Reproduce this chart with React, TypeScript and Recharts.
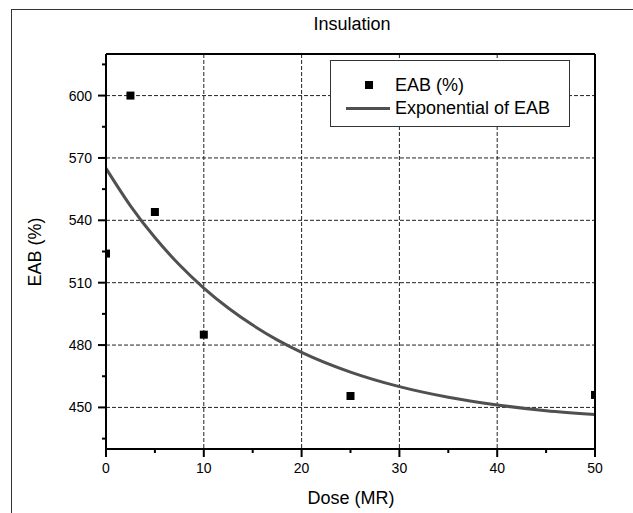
import { ComposedChart, Line, Scatter, XAxis, YAxis, CartesianGrid } from 'recharts'

// measured points
const DOSE = [0, 2.5, 5, 10, 25, 50]
const EAB = [524, 600, 544, 485, 455.5, 456]

// exponential fit
const FIT_DOSE = [0, 2.5, 5, 7.5, 10, 12.5, 15, 17.5, 20, 25, 30, 35, 40, 45, 50]
const FIT_EAB = [565, 547, 531.7, 518.6, 507.4, 497.8, 489.6, 482.5, 476.5, 467, 460, 454.9, 451.2, 448.4, 446.6]

const X_MAJOR = [0, 10, 20, 30, 40, 50]
const X_MINOR = [5, 15, 25, 35, 45]
const Y_MAJOR = [450, 480, 510, 540, 570, 600]
const Y_MINOR = [435, 465, 495, 525, 555, 585, 615]

const FONT = '"Liberation Sans", Arial, sans-serif'

const points = DOSE.map((x, i) => ({ x, y: EAB[i] }))
const fit = FIT_DOSE.map((x, i) => ({ x, y: FIT_EAB[i] }))
const xTicks = [...X_MAJOR, ...X_MINOR].sort((a, b) => a - b)
const yTicks = [...Y_MAJOR, ...Y_MINOR].sort((a, b) => a - b)

const tickText = { fontSize: 14, fill: '#000', fontFamily: FONT }
const axisLine = { stroke: '#000', strokeWidth: 2 }

function BottomTick({ x, y, payload }: any) {
  const major = X_MAJOR.includes(payload.value)
  return (
    <g>
      <line x1={x} y1={y} x2={x} y2={y + (major ? 8 : 4)} stroke="#000" strokeWidth={2} />
      {major && <text x={x} y={y + 24} textAnchor="middle" {...tickText}>{payload.value}</text>}
    </g>
  )
}

function TopTick({ x, y, payload }: any) {
  const major = X_MAJOR.includes(payload.value)
  return <line x1={x} y1={y} x2={x} y2={y - (major ? 8 : 4)} stroke="#000" strokeWidth={2} />
}

function LeftTick({ x, y, payload }: any) {
  const major = Y_MAJOR.includes(payload.value)
  return (
    <g>
      <line x1={x} y1={y} x2={x - (major ? 8 : 4)} y2={y} stroke="#000" strokeWidth={2} />
      {major && <text x={x - 14} y={y + 5} textAnchor="end" {...tickText}>{payload.value}</text>}
    </g>
  )
}

function RightTick({ x, y, payload }: any) {
  const major = Y_MAJOR.includes(payload.value)
  return <line x1={x} y1={y} x2={x + (major ? 8 : 4)} y2={y} stroke="#000" strokeWidth={2} />
}

const Square = ({ cx, cy }: any) => <rect x={cx - 4} y={cy - 4} width={8} height={8} fill="#000" />

const label = { position: 'absolute' as const, fontFamily: FONT, fontSize: 18, lineHeight: '18px', color: '#000', whiteSpace: 'nowrap' as const }

export default function App() {
  return (
    <div style={{ position: 'absolute', left: 0, top: 0, width: 633, height: 513, background: '#fff' }}>
      <div style={{ position: 'absolute', left: 11, top: 9, right: 0, bottom: 0, borderLeft: '1px solid #333', borderTop: '1px solid #333' }} />
      <ComposedChart width={633} height={513} margin={{ top: 0, right: 0, bottom: 0, left: 0 }} style={{ position: 'absolute', left: 0, top: 0 }}>
        <CartesianGrid horizontalValues={Y_MAJOR} verticalValues={[10, 20, 30, 40]} stroke="#222" strokeDasharray="4 2" />
        <XAxis dataKey="x" type="number" domain={[0, 50]} ticks={xTicks} interval={0} allowDataOverflow
          height={64} tickSize={0} tickMargin={0} tickLine={false} axisLine={axisLine} tick={<BottomTick />} />
        <XAxis xAxisId="top" orientation="top" dataKey="x" type="number" domain={[0, 50]} ticks={xTicks} interval={0}
          height={54} tickSize={0} tickMargin={0} tickLine={false} axisLine={axisLine} tick={<TopTick />} />
        <YAxis type="number" domain={[430, 620]} ticks={yTicks} interval={0} allowDataOverflow
          width={106} tickSize={0} tickMargin={0} tickLine={false} axisLine={axisLine} tick={<LeftTick />} />
        <YAxis yAxisId="right" orientation="right" type="number" domain={[430, 620]} ticks={yTicks} interval={0}
          width={38} tickSize={0} tickMargin={0} tickLine={false} axisLine={axisLine} tick={<RightTick />} />
        <Line data={fit} dataKey="y" type="monotone" stroke="#505050" strokeWidth={3} dot={false} isAnimationActive={false} />
        <Scatter data={points} dataKey="y" shape={<Square />} isAnimationActive={false} />
      </ComposedChart>

      <div style={{ ...label, left: 252, top: 14.6, width: 200, textAlign: 'center' }}>Insulation</div>
      <div style={{ ...label, left: 251, top: 488.6, width: 200, textAlign: 'center' }}>Dose (MR)</div>
      <div style={{ ...label, left: -25, top: 243, width: 120, textAlign: 'center', transform: 'rotate(-90deg)' }}>EAB (%)</div>

      <div style={{ position: 'absolute', left: 330, top: 60, width: 240, height: 67, boxSizing: 'border-box', border: '1px solid #333', background: '#fff' }}>
        <div style={{ position: 'absolute', left: 34, top: 19.5, width: 8, height: 8, background: '#000' }} />
        <div style={{ ...label, left: 64, top: 15 }}>EAB (%)</div>
        <div style={{ position: 'absolute', left: 15, top: 45.5, width: 44, height: 3, background: '#505050' }} />
        <div style={{ ...label, left: 64, top: 38 }}>Exponential of EAB</div>
      </div>
    </div>
  )
}
